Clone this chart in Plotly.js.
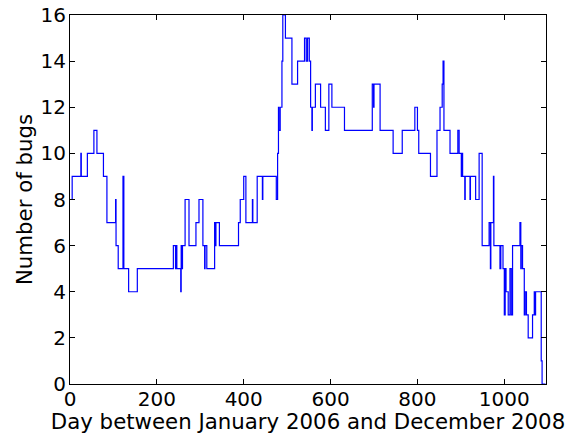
<!DOCTYPE html>
<html>
<head>
<meta charset="utf-8">
<script src="https://cdn.plot.ly/plotly-3.0.1.min.js"></script>
<style>html,body{margin:0;padding:0;background:#fff;}#chart{width:571px;height:434px;}</style>
</head>
<body>
<div id="chart"></div>
<script>
// Day at which the bug count changes, and the new count from that day on
var days = [0,5,25,26,40,55,62,77,85,105,106,111,122,124,135,155,238,243,245,246,255,256,258,259,265,274,290,297,306,310,311,315,333,335,336,344,388,392,400,405,420,421,431,443,444,475,478,480,481,484,488,490,496,511,524,540,544,547,551,554,557,558,565,577,588,596,603,632,696,699,700,714,744,765,794,800,803,830,845,852,857,859,861,875,893,896,901,903,904,909,910,921,922,934,942,949,965,968,969,975,976,990,992,997,1000,1002,1004,1009,1013,1016,1019,1036,1038,1039,1042,1046,1048,1051,1055,1065,1069,1071,1072,1085,1087,1095];
var bugs = [8,9,10,9,10,11,10,9,7,8,6,5,9,5,4,5,6,5,6,5,4,6,5,6,8,6,7,8,6,5,6,5,7,6,7,6,7,8,9,7,8,7,9,8,9,8,10,12,11,12,14,16,15,13,14,15,14,15,14,12,11,12,13,12,11,13,12,11,13,12,13,11,10,11,12,11,10,9,11,12,13,14,11,10,11,10,9,10,9,8,9,8,9,8,10,6,7,5,7,9,6,5,6,5,3,5,4,3,5,3,6,7,5,6,5,3,4,3,2,3,4,3,4,1,0,0];
var xTicks = [0,200,400,600,800,1000];
var yTicks = [0,2,4,6,8,10,12,14,16];
var xLabel = 'Day between January 2006 and December 2008';
var yLabel = 'Number of bugs';

var tickFont = {family: 'DejaVu Sans', size: 20, color: '#000'};
var titleFont = {family: 'DejaVu Sans', size: 21.3, color: '#000'};
var trace = {
  x: days, y: bugs, type: 'scatter', mode: 'lines',
  line: {shape: 'hv', color: '#0000ff', width: 1.2},
  hoverinfo: 'skip'
};
var axisCommon = {
  showgrid: false, zeroline: false, showline: true, mirror: 'ticks',
  linecolor: '#000', linewidth: 1, ticks: 'inside', ticklen: 5, tickwidth: 1,
  tickcolor: '#000', tickfont: tickFont
};
var layout = {
  width: 571, height: 434,
  margin: {l: 70, r: 25, t: 15, b: 50},
  paper_bgcolor: '#fff', plot_bgcolor: '#fff',
  showlegend: false, font: tickFont,
  xaxis: Object.assign({}, axisCommon, {
    range: [0, 1096], tickvals: xTicks, ticktext: xTicks.map(String),
    ticklabelstandoff: -3,
    title: {text: xLabel, font: titleFont, standoff: 1}, automargin: false
  }),
  yaxis: Object.assign({}, axisCommon, {
    range: [0, 16], tickvals: yTicks, ticktext: yTicks.map(String),
    ticklabelstandoff: -1,
    title: {text: yLabel, font: titleFont, standoff: 2}, automargin: false
  })
};
Plotly.newPlot('chart', [trace], layout, {staticPlot: true, displayModeBar: false});
</script>
</body>
</html>
